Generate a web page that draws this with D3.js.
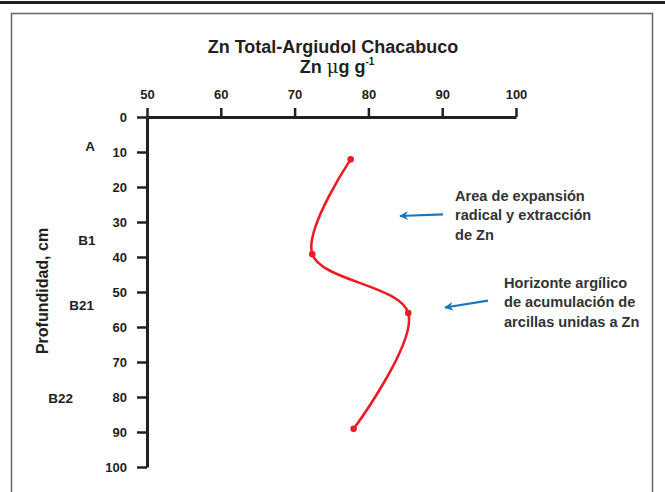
<!DOCTYPE html>
<html lang="es">
<head>
<meta charset="UTF-8">
<title>Zn Total-Argiudol Chacabuco</title>
<style>
    body { margin: 0; padding: 0; background: #fff; }
    svg { display: block; font-family: "Liberation Sans", Arial, sans-serif; }
    .tick text { font-size: 13px; font-weight: bold; fill: #231f20; }
    .note { font-size: 14.6px; font-weight: bold; fill: #333; }
</style>
</head>
<body>
<svg id="chart" width="665" height="492"></svg>
<script src="https://d3js.org/d3.v7.min.js"></script>
<script>
    // values
    const horizons = ["A", "B1", "B21", "B22"];
    const horizonDepth = [8.5, 35.3, 53.9, 80.3];
    const depth = [12.1, 39.2, 56.0, 89.1];
    const zn = [77.6, 72.4, 85.4, 78.0];
    const xTicks = [50, 60, 70, 80, 90, 100];
    const yTicks = [0, 10, 20, 30, 40, 50, 60, 70, 80, 90, 100];
    const noteA = ["Area de expansión", "radical y extracción", "de Zn"];
    const noteB = ["Horizonte argílico", "de acumulación de", "arcillas unidas a Zn"];

    const svg = d3.select("#chart");

    // page rule and frame
    svg.append("line").attr("x1", 0).attr("x2", 665).attr("y1", 2.5).attr("y2", 2.5)
        .attr("stroke", "#231f20").attr("stroke-width", 3);
    svg.append("rect").attr("x", 11.5).attr("y", 13.5).attr("width", 641).attr("height", 490)
        .attr("fill", "none").attr("stroke", "#666").attr("stroke-width", 1.5);

    const x = d3.scaleLinear().domain([50, 100]).range([147, 516]);
    const y = d3.scaleLinear().domain([0, 100]).range([117, 467]);

    // top axis
    const xAxis = svg.append("g").attr("transform", "translate(0,117)")
        .call(d3.axisTop(x).tickValues(xTicks).tickSize(9).tickSizeOuter(0).tickPadding(9));
    xAxis.select(".domain").attr("stroke", "#231f20").attr("stroke-width", 3);
    xAxis.selectAll(".tick line").attr("stroke", "#231f20").attr("stroke-width", 2.5);

    // left axis
    const yAxis = svg.append("g").attr("transform", "translate(147,0)")
        .call(d3.axisLeft(y).tickValues(yTicks).tickSize(10).tickSizeOuter(0).tickPadding(10));
    yAxis.select(".domain").attr("stroke", "#231f20").attr("stroke-width", 3);
    yAxis.selectAll(".tick line").attr("stroke", "#231f20").attr("stroke-width", 2.5);

    // titles
    svg.append("text").attr("x", 333).attr("y", 52.5).attr("text-anchor", "middle")
        .attr("font-size", 18).attr("font-weight", "bold").attr("fill", "#231f20")
        .text("Zn Total-Argiudol Chacabuco");
    const sub = svg.append("text").attr("x", 337).attr("y", 72.5).attr("text-anchor", "middle")
        .attr("font-size", 18).attr("font-weight", "bold").attr("fill", "#231f20");
    sub.append("tspan").text("Zn ");
    sub.append("tspan").attr("font-weight", "normal").attr("font-family", "DejaVu Serif").text("μ");
    sub.append("tspan").text("g g");
    sub.append("tspan").attr("font-size", 10).attr("dy", -8).text("-1");

    svg.append("text").attr("transform", "translate(48,291) rotate(-90)")
        .attr("text-anchor", "middle").attr("font-size", 16).attr("font-weight", "bold")
        .attr("fill", "#231f20").text("Profundidad, cm");

    // horizon labels
    const labelRight = [95, 95.5, 94, 73];
    svg.append("g").selectAll("text").data(horizons).enter().append("text")
        .attr("x", (d, i) => labelRight[i])
        .attr("y", (d, i) => y(horizonDepth[i]))
        .attr("dy", "0.35em").attr("text-anchor", "end")
        .attr("font-size", 13.5).attr("font-weight", "bold").attr("fill", "#231f20")
        .text(d => d);

    // profile curve
    const pts = depth.map((d, i) => ({ depth: d, zn: zn[i] }));
    const line = d3.line().x(d => x(d.zn)).y(d => y(d.depth)).curve(d3.curveCatmullRom.alpha(0.5));
    svg.append("path").datum(pts).attr("d", line)
        .attr("fill", "none").attr("stroke", "#ec1c24").attr("stroke-width", 2.6);
    svg.append("g").selectAll("circle").data(pts).enter().append("circle")
        .attr("cx", d => x(d.zn)).attr("cy", d => y(d.depth)).attr("r", 3.3)
        .attr("fill", "#ec1c24");

    // annotations
    svg.append("defs").append("marker").attr("id", "arr")
        .attr("viewBox", "0 0 10 10").attr("refX", 1).attr("refY", 5)
        .attr("markerWidth", 4).attr("markerHeight", 4).attr("orient", "auto")
        .append("path").attr("d", "M10,0 L0,5 L10,10 L7,5 Z").attr("fill", "#1b75bc");

    function note(lines, tx, ty, ax1, ay1, ax2, ay2) {
        const t = svg.append("text").attr("class", "note");
        lines.forEach((s, i) => t.append("tspan").attr("x", tx).attr("y", ty + i * 19.5).text(s));
        svg.append("line").attr("x1", ax1).attr("y1", ay1).attr("x2", ax2).attr("y2", ay2)
            .attr("stroke", "#1b75bc").attr("stroke-width", 2.2).attr("marker-start", "url(#arr)");
    }
    note(noteA, 455, 200.5, 400, 216, 443, 214.3);
    note(noteB, 504, 287.5, 445, 307.5, 488, 300.7);
</script>
</body>
</html>
